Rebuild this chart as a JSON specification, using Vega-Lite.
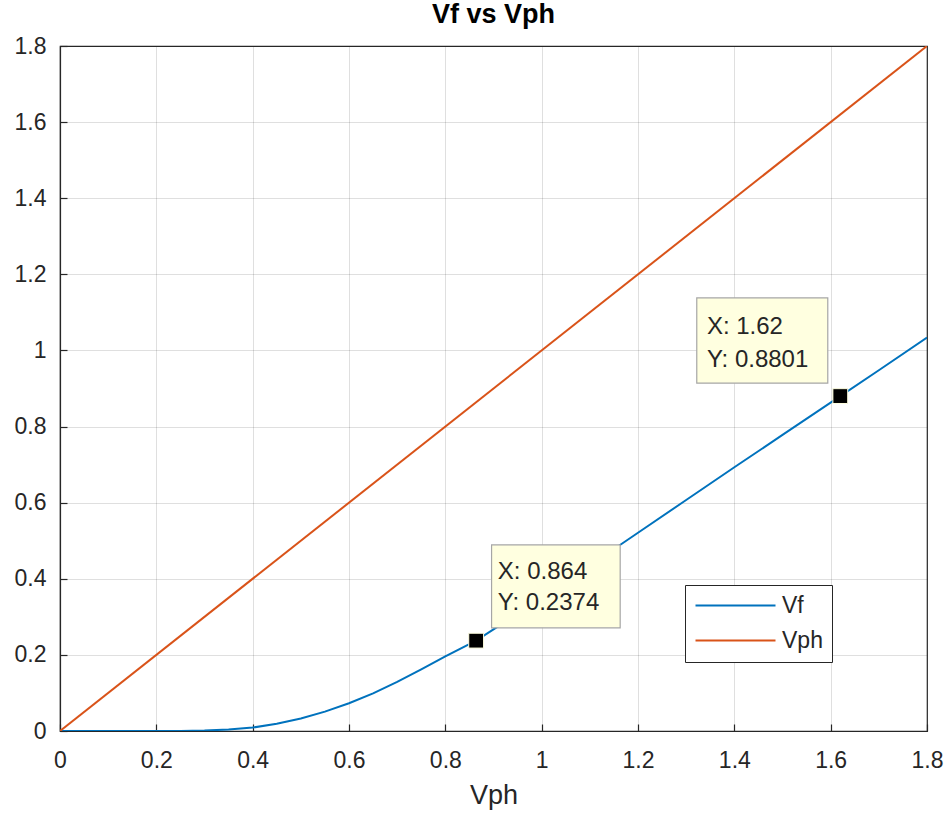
{
  "$schema": "https://vega.github.io/schema/vega-lite/v6.json",
  "autosize": {"type": "none"},
  "width": 867,
  "height": 685,
  "padding": {"left": 60, "top": 46, "right": 23, "bottom": 85},
  "background": "white",
  "config": {
    "font": "Liberation Sans",
    "view": {"stroke": "#262626", "strokeWidth": 1.2},
    "axis": {
      "labelFont": "Liberation Sans",
      "titleFont": "Liberation Sans",
      "labelColor": "#262626",
      "titleColor": "#262626",
      "labelFontSize": 23,
      "titleFontSize": 27,
      "titleFontWeight": "normal",
      "domainColor": "#262626",
      "domainWidth": 1.2,
      "tickColor": "#262626",
      "tickSize": -7,
      "tickWidth": 1.2,
      "gridColor": "#262626",
      "gridOpacity": 0.15,
      "gridWidth": 1,
      "labelFlush": false,
      "labelOverlap": false,
      "format": "~g"
    }
  },
  "title": {
    "text": "Vf vs Vph",
    "fontSize": 27,
    "fontWeight": "bold",
    "font": "Liberation Sans",
    "color": "#000000",
    "anchor": "middle",
    "offset": 6
  },
  "datasets": {
    "curves": [
      {"Vph": 0, "V": 0, "series": "Vf"},
      {"Vph": 0.1, "V": 0, "series": "Vf"},
      {"Vph": 0.2, "V": 0, "series": "Vf"},
      {"Vph": 0.25, "V": 0.0003, "series": "Vf"},
      {"Vph": 0.3, "V": 0.001, "series": "Vf"},
      {"Vph": 0.35, "V": 0.004, "series": "Vf"},
      {"Vph": 0.4, "V": 0.009, "series": "Vf"},
      {"Vph": 0.45, "V": 0.019, "series": "Vf"},
      {"Vph": 0.5, "V": 0.033, "series": "Vf"},
      {"Vph": 0.55, "V": 0.051, "series": "Vf"},
      {"Vph": 0.6, "V": 0.073, "series": "Vf"},
      {"Vph": 0.65, "V": 0.099, "series": "Vf"},
      {"Vph": 0.7, "V": 0.129, "series": "Vf"},
      {"Vph": 0.75, "V": 0.162, "series": "Vf"},
      {"Vph": 0.8, "V": 0.196, "series": "Vf"},
      {"Vph": 0.864, "V": 0.2374, "series": "Vf"},
      {"Vph": 0.9, "V": 0.267, "series": "Vf"},
      {"Vph": 0.95, "V": 0.308, "series": "Vf"},
      {"Vph": 1.0, "V": 0.35, "series": "Vf"},
      {"Vph": 1.1, "V": 0.435, "series": "Vf"},
      {"Vph": 1.2, "V": 0.521, "series": "Vf"},
      {"Vph": 1.3, "V": 0.607, "series": "Vf"},
      {"Vph": 1.4, "V": 0.693, "series": "Vf"},
      {"Vph": 1.5, "V": 0.778, "series": "Vf"},
      {"Vph": 1.62, "V": 0.8801, "series": "Vf"},
      {"Vph": 1.7, "V": 0.948, "series": "Vf"},
      {"Vph": 1.8, "V": 1.034, "series": "Vf"},
      {"Vph": 0, "V": 0, "series": "Vph"},
      {"Vph": 1.8, "V": 1.8, "series": "Vph"}
    ],
    "tipBoxes": [
      {"x1": 0.896, "x2": 1.163, "y1": 0.489, "y2": 0.271},
      {"x1": 1.322, "x2": 1.594, "y1": 1.138, "y2": 0.914}
    ],
    "tipTexts": [
      {"tx": 0.909, "ty": 0.418, "label": "X: 0.864"},
      {"tx": 0.909, "ty": 0.336, "label": "Y: 0.2374"},
      {"tx": 1.343, "ty": 1.061, "label": "X: 1.62"},
      {"tx": 1.343, "ty": 0.975, "label": "Y: 0.8801"}
    ],
    "markers": [
      {"mx": 0.864, "my": 0.2374},
      {"mx": 1.62, "my": 0.8801}
    ]
  },
  "layer": [
    {
      "data": {"name": "curves"},
      "mark": {"type": "line", "strokeWidth": 2, "clip": true},
      "encoding": {
        "x": {
          "field": "Vph", "type": "quantitative",
          "scale": {"domain": [0, 1.8], "nice": false, "zero": false},
          "axis": {"values": [0, 0.2, 0.4, 0.6, 0.8, 1, 1.2, 1.4, 1.6, 1.8], "title": "Vph", "labelPadding": 25, "titlePadding": 10}
        },
        "y": {
          "field": "V", "type": "quantitative",
          "scale": {"domain": [0, 1.8], "nice": false, "zero": false},
          "axis": {"values": [0, 0.2, 0.4, 0.6, 0.8, 1, 1.2, 1.4, 1.6, 1.8], "title": null, "labelPadding": 21}
        },
        "color": {
          "field": "series", "type": "nominal",
          "scale": {"domain": ["Vf", "Vph"], "range": ["#0072BD", "#D95319"]},
          "legend": {
            "title": null,
            "orient": "none",
            "legendX": 625,
            "legendY": 539,
            "fillColor": "white",
            "strokeColor": "#262626",
            "padding": 9,
            "symbolType": "M-1,0H7",
            "symbolSize": 400,
            "symbolStrokeWidth": 2,
            "labelFontSize": 23,
            "labelFont": "Liberation Sans",
            "labelColor": "#262626",
            "labelOffset": 65,
            "rowPadding": 11
          }
        }
      }
    },
    {
      "data": {"name": "tipBoxes"},
      "mark": {"type": "rect", "fill": "#ffffe0", "stroke": "#a6a6a6", "strokeWidth": 1.2},
      "encoding": {
        "x": {"field": "x1", "type": "quantitative"},
        "x2": {"field": "x2"},
        "y": {"field": "y1", "type": "quantitative"},
        "y2": {"field": "y2"}
      }
    },
    {
      "data": {"name": "tipTexts"},
      "mark": {"type": "text", "align": "left", "baseline": "middle", "fontSize": 24, "font": "Liberation Sans", "color": "#262626"},
      "encoding": {
        "x": {"field": "tx", "type": "quantitative"},
        "y": {"field": "ty", "type": "quantitative"},
        "text": {"field": "label"}
      }
    },
    {
      "data": {"name": "markers"},
      "mark": {"type": "square", "size": 220, "filled": true, "color": "black", "stroke": "#ffffe0", "strokeWidth": 1, "opacity": 1},
      "encoding": {
        "x": {"field": "mx", "type": "quantitative"},
        "y": {"field": "my", "type": "quantitative"}
      }
    }
  ]
}
